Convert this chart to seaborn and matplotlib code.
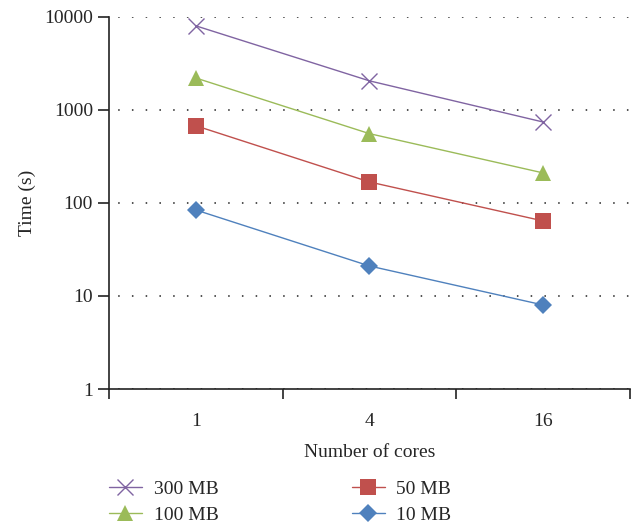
import pandas as pd
import seaborn as sns
import matplotlib.pyplot as plt
from matplotlib.ticker import FixedLocator, NullFormatter

cores = ['1', '4', '16']
series = ['300 MB', '100 MB', '50 MB', '10 MB']
time_300 = [8000, 2050, 740]
time_100 = [2200, 555, 210]
time_50 = [675, 168, 64]
time_10 = [84, 21, 8]

colors = {'300 MB': '#8064A2', '100 MB': '#9BBB59', '50 MB': '#C0504D', '10 MB': '#4F81BD'}
markers = {'300 MB': 'x', '100 MB': '^', '50 MB': 's', '10 MB': 'D'}
msizes = {'300 MB': 12, '100 MB': 11, '50 MB': 11, '10 MB': 9}

df = pd.DataFrame({
    'cores': cores * 4,
    'time': time_300 + time_100 + time_50 + time_10,
    'size': [s for s in series for _ in cores],
})

sns.set_style('white')
plt.rcParams['font.family'] = ['Liberation Serif', 'DejaVu Serif']

fig = plt.figure(figsize=(6.37, 5.25), dpi=100)
ax = fig.add_axes([0.171, 0.259, 0.818, 0.709])

for s in series:
    sub = df[df['size'] == s]
    sns.lineplot(data=sub, x='cores', y='time', ax=ax, color=colors[s],
                 marker=markers[s], markersize=msizes[s],
                 markeredgewidth=1.0 if s == '300 MB' else 0,
                 markeredgecolor=colors[s], markerfacecolor=colors[s],
                 linewidth=1.0, label=s)

ax.set_yscale('log')
ax.set_ylim(1, 10000)
ax.set_xlim(-0.5, 2.5)
ax.set_yticks([1, 10, 100, 1000, 10000])
ax.set_yticklabels(['1', '10', '100', '1000', '10000'])
ax.yaxis.set_minor_locator(FixedLocator([]))
ax.yaxis.grid(True, which='major', linestyle=(3, (1, 8)), color='#222222', linewidth=1.1)
ax.xaxis.grid(False)

ax.xaxis.set_minor_locator(FixedLocator([-0.5, 0.5, 1.5, 2.5]))
ax.xaxis.set_minor_formatter(NullFormatter())
ax.tick_params(axis='x', which='major', length=0, pad=17, labelsize=14)
ax.tick_params(axis='x', which='minor', length=7, width=1.2, direction='out', color='#222222', bottom=True)
ax.tick_params(axis='y', which='major', length=8, width=1.2, direction='out', color='#222222', left=True, labelsize=14)

for side in ['top', 'right']:
    ax.spines[side].set_visible(False)
for side in ['left', 'bottom']:
    ax.spines[side].set_color('#222222')
    ax.spines[side].set_linewidth(1.2)

ax.set_xlabel('Number of cores', fontsize=14, labelpad=10)
ax.set_ylabel('Time (s)', fontsize=14, labelpad=6)

ax.legend(loc='upper left', bbox_to_anchor=(-0.015, -0.225), ncol=2, frameon=False,
          fontsize=14, handlelength=1.7, columnspacing=6.85, labelspacing=0.4, handletextpad=0.6,
          borderaxespad=0)

fig.savefig('out.png', dpi=100)
